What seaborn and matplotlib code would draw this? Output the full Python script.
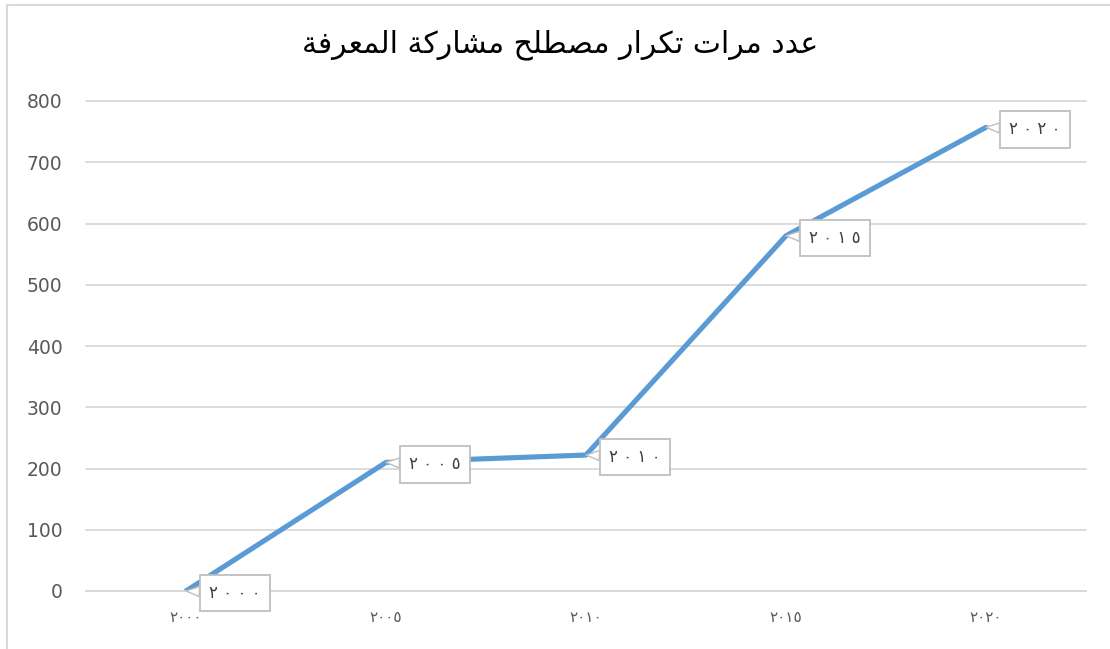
import matplotlib
matplotlib.use("Agg")
import matplotlib.pyplot as plt
import seaborn as sns
import pandas as pd
from matplotlib.patches import Rectangle

# ---- data ----
years = ["٢٠٠٠", "٢٠٠٥", "٢٠١٠", "٢٠١٥", "٢٠٢٠"]
counts = [0, 210, 222, 580, 757]
# title (Arabic presentation forms, visual order)
title_text = "ﺔﻓﺮﻌﻤﻟﺍ ﺔﻛﺭﺎﺸﻣ ﺢﻠﻄﺼﻣ ﺭﺍﺮﻜﺗ ﺕﺍﺮﻣ ﺩﺪﻋ"
y_ticks = [0, 100, 200, 300, 400, 500, 600, 700, 800]

sns.set_theme(style="white")
plt.rcParams["font.family"] = ["DejaVu Sans"]

W, H = 1110, 649
fig = plt.figure(figsize=(W / 100, H / 100), dpi=100)
# plot area: x 86..1086, y 101..591 (pixels from top)
ax = fig.add_axes([86 / W, 1 - 591 / H, 1000 / W, 490 / H])

df = pd.DataFrame({"year": years, "count": counts})
sns.lineplot(data=df, x="year", y="count", sort=False, ax=ax,
             color="#5B9BD5", linewidth=3.7, solid_capstyle="round")

ax.set_xlim(-0.5, len(years) - 0.5)
ax.set_ylim(0, 800)
ax.set_yticks(y_ticks)
ax.set_yticklabels([str(v) for v in y_ticks])
ax.grid(axis="y", color="#D9D9D9", linewidth=1.3)
ax.grid(axis="x", visible=False)
for gl in ax.get_ygridlines():
    gl.set_clip_on(False)
ax.set_axisbelow(True)
for s in ["left", "right", "top"]:
    ax.spines[s].set_visible(False)
ax.spines["bottom"].set_color("#D9D9D9")
ax.spines["bottom"].set_linewidth(1.3)
ax.set_xlabel("")
ax.set_ylabel("")
ax.tick_params(axis="y", length=0, pad=17, labelsize=13.5, labelcolor="#595959")
ax.tick_params(axis="x", length=0, pad=14, labelsize=11, labelcolor="#595959")

# data label callouts
for i, (lab, val) in enumerate(zip(years, counts)):
    spaced = " ".join(lab)
    ax.annotate(spaced, xy=(i, val), xytext=(49, -2), textcoords="offset pixels",
                ha="center", va="center", fontsize=12, color="#404040",
                bbox=dict(boxstyle="square,pad=0.55", fc="white", ec="#BFBFBF", lw=1.3),
                arrowprops=dict(arrowstyle="wedge,tail_width=0.6", fc="white",
                                ec="#BFBFBF", lw=1.0, shrinkA=0, shrinkB=0))

fig.text(560 / W, 1 - 45 / H, title_text, ha="center", va="center",
         fontsize=21.5, color="#000000")

# outer chart border (cropped on right/bottom)
fig.patches.append(Rectangle((7 / W, -0.1), 1.2, 1 - 5 / H + 0.1,
                             transform=fig.transFigure, fill=False,
                             ec="#D9D9D9", lw=1.5))

fig.savefig("out.png", dpi=100, facecolor="white")
